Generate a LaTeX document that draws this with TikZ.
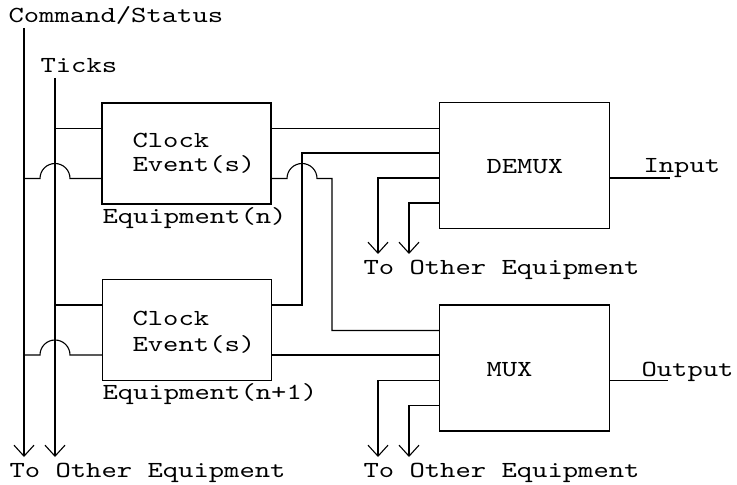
\documentclass[tikz,border=0pt]{standalone}
\usepackage{fontspec}
\setmonofont[FakeStretch=1.27]{lmmono10-regular.otf}
\usetikzlibrary{arrows.meta}

\begin{document}
\begin{tikzpicture}[x=0.5pt,y=-0.5pt,line width=0.55pt,
  every node/.style={font=\ttfamily\fontsize{11.5}{12.5}\selectfont,inner sep=0pt},
  txt/.style={anchor=base west},
  unit/.style={draw,minimum width=84.5pt,minimum height=50.5pt},
  mx/.style={draw,minimum width=85pt,minimum height=63pt},
  toeq/.style={-{Straight Barb[length=5.5pt,width=10pt]}}]
\useasboundingbox (0,0) rectangle (737,485);

\coordinate (cmd) at (24,28);
\coordinate (cmd2) at (24,457);
\coordinate (tck) at (55,78);
\coordinate (tck2) at (55,457);
\coordinate (up) at (302,0);
\coordinate (dn) at (332,0);
\coordinate (in) at (670,0);
\coordinate (ou) at (668,0);
\coordinate (o1) at (378,254);
\coordinate (o2) at (409,254);
\coordinate (o3) at (378,457);
\coordinate (o4) at (409,457);

\node[unit] (eq1) at (186.5,153.5) {};
\node[unit] (eq2) at (187,330) {};
\node[mx] (dmx) at (524.5,165.5) {};
\node[mx] (mx) at (524.5,368) {};

\foreach \n in {eq1,eq2}{
  \coordinate (\n-i1) at ([yshift=12.5pt]\n.west);
  \coordinate (\n-i2) at ([yshift=-12.5pt]\n.west);
  \coordinate (\n-o1) at ([yshift=12.5pt]\n.east);
  \coordinate (\n-o2) at ([yshift=-12.5pt]\n.east);
}
\foreach \n in {dmx,mx}
  \foreach \k/\s in {1/18.75,2/6.25,3/-6.25,4/-18.75}
    \coordinate (\n-\k) at ([yshift=\s pt]\n.west);

\draw[toeq] (cmd) -- (cmd2);
\draw[toeq] (tck) -- (tck2);

\foreach \n in {eq1,eq2}{
  \draw (tck |- \n-i1) -- (\n-i1);
  \draw (cmd |- \n-i2) -- ([xshift=-7.5pt]tck |- \n-i2)
    arc[start angle=180,end angle=0,radius=7.5pt] -- (\n-i2);
}

\draw (eq1-o1) -- (dmx-1 |- eq1-o1);
\draw (eq1-o2) -- ([xshift=-7.5pt]up |- eq1-o2)
  arc[start angle=180,end angle=0,radius=7.5pt] -- (dn |- eq1-o2) |- (mx-1);
\draw (eq2-o1) -| (up |- dmx-2) -- (dmx-2);
\draw (eq2-o2) -- (mx-2 |- eq2-o2);

\foreach \p/\q in {dmx-3/o1,dmx-4/o2,mx-3/o3,mx-4/o4}
  \draw[toeq] (\p) -| (\q);

\draw (dmx.east |- dmx-3) -- (in |- dmx-3);
\draw (mx.east |- mx-3) -- (ou |- mx-3);

\node[txt] (cs) at (8,22.5) {Command/Status};
\node[txt] (tk) at (40,73) {Ticks};
\node[txt] (clk1) at (132,148) {Clock};
\node[txt] (ev1) at (132,172) {Event(s)};
\node[txt] (nm1) at (102,224) {Equipment(n)};
\node[txt] (clk2) at (132,326) {Clock};
\node[txt] (ev2) at (132,351) {Event(s)};
\node[txt] (nm2) at (102,399) {Equipment(n+1)};
\node[txt] (dl) at (486,174) {DEMUX};
\node[txt] (ml) at (486,376) {MUX};
\node[txt] (il) at (643,173) {Input};
\node[txt] (ol) at (641,376) {Output};
\node[txt] (to1) at (363,275) {To Other Equipment};
\node[txt] (to2) at (9,477) {To Other Equipment};
\node[txt] (to3) at (363,477) {To Other Equipment};
\end{tikzpicture}
\end{document}
